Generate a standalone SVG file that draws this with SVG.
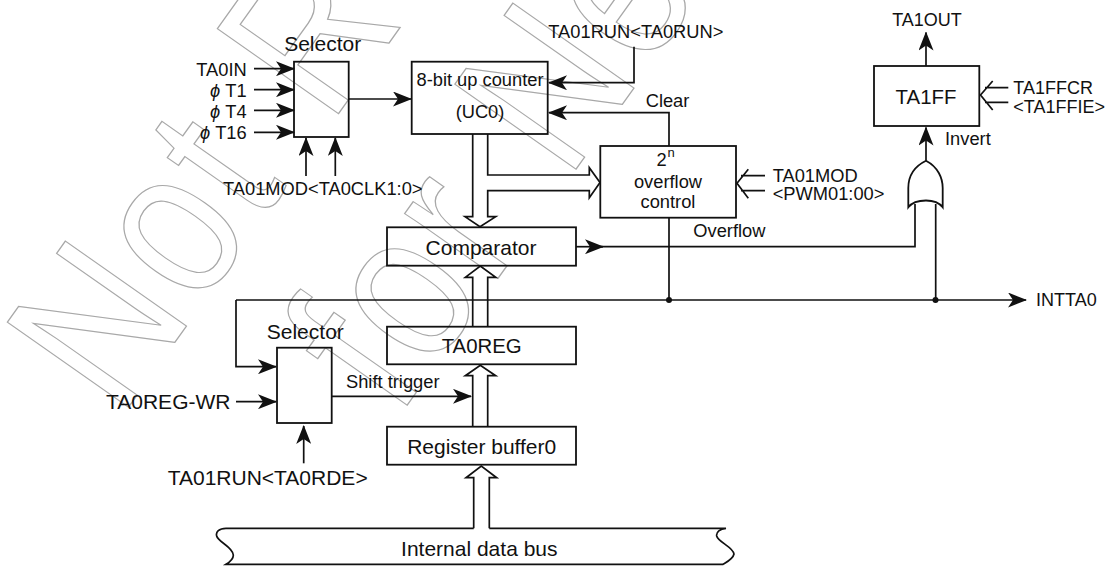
<svg xmlns="http://www.w3.org/2000/svg" width="1109" height="566" viewBox="0 0 1109 566">
<style>
text{font-family:"Liberation Sans",Arial,sans-serif;fill:#111}
.s{font-size:18.3px}
.l{font-size:21px}
.m{text-anchor:middle}
.e{text-anchor:end}
.b{fill:none;stroke:#111;stroke-width:1.8}
.w{fill:none;stroke:#111;stroke-width:1.7;stroke-linejoin:miter}
.a{marker-end:url(#ah)}
.wm{font-size:100px;fill:none;stroke:#a8a8a8;stroke-width:1.2;vector-effect:non-scaling-stroke;letter-spacing:3px;word-spacing:7px}
</style>
<defs>
<marker id="ah" markerUnits="userSpaceOnUse" markerWidth="19" markerHeight="15" viewBox="0 0 19 15" refX="18" refY="7.5" orient="auto"><path d="M0 0L19 7.5L0 15L5 7.5Z" fill="#111"/></marker>
</defs>
<g id="watermark">
<text class="wm" transform="matrix(1.037 -1.45 1.76 1.235 120 419)" style="fill:none">Not R</text>
<text class="wm" transform="matrix(1.037 -1.45 1.76 1.235 398 418)" style="fill:none">for Ne</text>
</g>
<g id="connectors">
<path class="w a" d="M254 68.7H294"/>
<path class="w a" d="M254 89.7H294"/>
<path class="w a" d="M254 110.3H294"/>
<path class="w a" d="M254 132.3H294"/>
<path class="w a" d="M306 176V138"/>
<path class="w a" d="M335.3 176V138"/>
<path class="w a" d="M348.7 99H411"/>
<path class="w a" d="M634 46.7V82.7H549"/>
<path class="w a" d="M669 146V112.7H549"/>
<path class="w" d="M669 217.7V300"/>
<path class="w a" d="M576 246.7H603"/>
<path class="w" d="M600 246.7H915V204"/>
<path class="w a" d="M926 160.7V127.5"/>
<path class="w a" d="M926 66V32.5"/>
<path class="w" d="M935.7 300V204"/>
<path class="w a" d="M236 300H1026"/>
<path class="w a" d="M236 300V366.7H276"/>
<path class="w a" d="M236 401.7H276"/>
<path class="w a" d="M303.7 463.3V426"/>
<path class="w a" d="M331.7 396.3H471"/>
<path class="w" d="M765 175.7H741M765 190.7H741M748.3 169.3L737 183.3L748.3 198.3"/>
<path class="w" d="M1008.3 87.7H985M1008.3 102.3H985M992.7 81L980.5 95L992.7 110"/>
<circle cx="669" cy="300" r="3" fill="#111"/>
<circle cx="935.5" cy="300" r="3" fill="#111"/>
<path class="w" d="M472.7 134V216.7H465L480 226.7L495.7 216.7H487.7V190.7H589.3V197.7L600 182.5L589.3 167.7V175H487.7V134"/>
<path class="w" d="M472.7 326.7V277.3H465.3L480.3 266L495.7 277.3H487.7V326.7"/>
<path class="w" d="M472.7 426.7V375.7H465.3L480.3 365.3L495.7 375.7H487.7V426.7"/>
<path class="w" d="M473.7 528.3V477.7H466L481.3 466L496.7 477.7H489.3V528.3"/>
</g>
<g id="selector1">
<rect class="b" x="294" y="61.7" width="54.7" height="75.3"/>
<text class="l m" x="322.7" y="50.7">Selector</text>
<text class="s e" x="246.7" y="75.7">TA0IN</text>
<text class="s e" x="246.7" y="96.7"><tspan font-style="italic">ϕ</tspan> T1</text>
<text class="s e" x="246.7" y="117.7"><tspan font-style="italic">ϕ</tspan> T4</text>
<text class="s e" x="246.7" y="138.7"><tspan font-style="italic">ϕ</tspan> T16</text>
<text class="s" x="223" y="194.5">TA01MOD&lt;TA0CLK1:0&gt;</text>
</g>
<g id="counter">
<rect class="b" x="411.7" y="61.7" width="136" height="72.3"/>
<text class="s m" x="480" y="86">8-bit up counter</text>
<text class="s m" x="480" y="118.3">(UC0)</text>
<text class="s" x="548.3" y="37.7">TA01RUN&lt;TA0RUN&gt;</text>
<text class="s" x="645.7" y="107.3">Clear</text>
</g>
<g id="overflow-control">
<rect class="b" x="600.3" y="146" width="135.7" height="71.7"/>
<text class="s" x="656.5" y="166">2</text>
<text x="667.5" y="156.7" font-size="13">n</text>
<text class="s m" x="668" y="188.3">overflow</text>
<text class="s m" x="668" y="208.3">control</text>
<text class="s" x="772.7" y="181.7">TA01MOD</text>
<text class="s" x="772.7" y="199.8">&lt;PWM01:00&gt;</text>
</g>
<g id="comparator">
<rect class="b" x="387" y="227.3" width="189" height="38.4"/>
<text class="l m" x="481" y="255">Comparator</text>
<text class="s" x="693.3" y="237.3">Overflow</text>
</g>
<g id="ta0reg">
<rect class="b" x="387" y="326.7" width="189" height="37.6"/>
<text class="l m" x="481.7" y="353.3" style="font-size:20.4px">TA0REG</text>
</g>
<g id="register-buffer">
<rect class="b" x="387" y="426.7" width="189" height="38"/>
<text class="l m" x="481.7" y="454.3">Register buffer0</text>
</g>
<g id="selector2">
<rect class="b" x="277" y="347.7" width="54.7" height="75.3"/>
<text class="l m" x="305.3" y="339">Selector</text>
<text class="l" x="106" y="409">TA0REG-WR</text>
<text class="l" x="167.7" y="485">TA01RUN&lt;TA0RDE&gt;</text>
<text class="s" x="346" y="388.3">Shift trigger</text>
</g>
<g id="ta1ff">
<rect class="b" x="874" y="66" width="105.3" height="60"/>
<text class="l m" x="926" y="104.3" style="font-size:20.4px">TA1FF</text>
<text class="s m" x="927" y="26" style="font-size:18px">TA1OUT</text>
<text class="s" x="1013.3" y="94.3" style="font-size:18px">TA1FFCR</text>
<text class="s" x="1013.3" y="113.3" style="font-size:18px">&lt;TA1FFIE&gt;</text>
<text class="s" x="945" y="145">Invert</text>
</g>
<g id="or-gate">
<path class="b" d="M926 160.7C913 167 908.3 178 908.3 188V207.3C912 202.5 919 200.5 926 200.5C933 200.5 939 202.5 942.7 207.3V188C942.7 178 938 167 926 160.7Z"/>
</g>
<g id="intta0"><text class="s" x="1036" y="306" style="font-size:18px">INTTA0</text></g>
<g id="bus">
<path class="w" d="M473.7 528.3H226C219 528.3 215.5 532 216.7 536C218 542 233 547 233.3 555C233.5 559 230 562 226 564.3H723C727 562 733 559 734 554C733 547 718 542 716.7 536C716 532 720 529 726 528.3H489.3"/>
<text class="l m" x="479.3" y="555.7">Internal data bus</text>
</g>
</svg>
